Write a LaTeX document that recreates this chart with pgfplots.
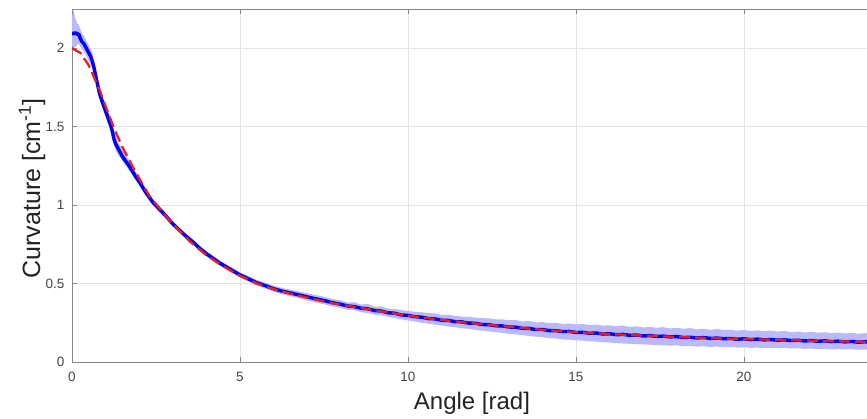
\documentclass[border=0pt]{standalone}
\usepackage{fontspec}
\setmainfont{Liberation Sans}
\usepackage{pgfplots}
\usepackage{pgfplotstable}
\pgfplotsset{compat=1.18}
\usepgfplotslibrary{fillbetween}
\definecolor{bandblue}{RGB}{185,185,252}
\definecolor{lineblue}{RGB}{0,0,245}
\definecolor{fitred}{RGB}{232,30,36}
\definecolor{axgray}{RGB}{135,135,135}
\definecolor{gridgray}{RGB}{228,228,228}
\definecolor{ticktext}{RGB}{70,70,70}
\definecolor{labeltext}{RGB}{35,35,35}

\pgfplotstableread{
x y lo hi
0.00 2.10 2.02 2.20
0.05 2.09 2.00 2.24
0.10 2.10 2.01 2.19
0.15 2.09 2.02 2.16
0.20 2.09 2.03 2.15
0.25 2.06 2.01 2.12
0.30 2.04 1.99 2.09
0.35 2.03 1.98 2.08
0.40 2.01 1.96 2.06
0.45 1.99 1.94 2.04
0.50 1.97 1.92 2.02
0.55 1.95 1.90 2.00
0.60 1.92 1.87 1.97
0.65 1.88 1.84 1.92
0.70 1.83 1.79 1.87
0.75 1.78 1.74 1.82
0.80 1.73 1.69 1.77
0.85 1.69 1.65 1.73
0.90 1.66 1.62 1.70
0.95 1.63 1.59 1.67
1.00 1.60 1.56 1.64
1.05 1.57 1.53 1.61
1.10 1.54 1.50 1.59
1.15 1.51 1.47 1.56
1.20 1.47 1.43 1.53
1.25 1.42 1.38 1.48
1.30 1.39 1.35 1.44
1.35 1.37 1.33 1.41
1.40 1.35 1.31 1.39
1.45 1.33 1.30 1.37
1.50 1.31 1.28 1.35
1.60 1.28 1.25 1.32
1.70 1.25 1.22 1.29
1.80 1.215 1.19 1.25
1.90 1.18 1.155 1.21
2.00 1.15 1.125 1.175
2.10 1.115 1.09 1.14
2.20 1.08 1.06 1.10
2.40 1.02 1.00 1.04
2.60 0.975 0.955 0.995
2.80 0.93 0.912 0.948
3.00 0.88 0.863 0.897
3.20 0.84 0.824 0.857
3.40 0.80 0.784 0.816
3.60 0.765 0.749 0.781
3.80 0.725 0.709 0.741
4.00 0.69 0.674 0.706
4.20 0.66 0.644 0.677
4.40 0.63 0.614 0.646
4.60 0.605 0.588 0.622
4.80 0.58 0.563 0.597
5.00 0.555 0.538 0.572
5.25 0.53 0.512 0.548
5.50 0.505 0.487 0.523
5.75 0.487 0.468 0.505
6.00 0.467 0.448 0.486
6.25 0.452 0.432 0.472
6.50 0.440 0.419 0.461
6.75 0.428 0.406 0.450
7.00 0.415 0.392 0.438
7.25 0.403 0.379 0.427
7.50 0.392 0.368 0.416
7.75 0.378 0.354 0.402
8.0 .368 .345 .392
8.2 .357 .333 .380
8.4 .353 .330 .381
8.6 .343 .318 .366
8.8 .339 .312 .370
9.0 .328 .302 .352
9.2 .325 .297 .355
9.4 .314 .287 .340
9.6 .311 .280 .338
9.8 .300 .272 .331
10.0 .297 .265 .326
10.2 .289 .258 .320
10.4 .286 .250 .318
10.6 .277 .244 .312
10.8 .275 .238 .310
11.0 .266 .232 .300
11.2 .265 .226 .302
11.4 .257 .222 .294
11.6 .256 .214 .290
11.8 .248 .212 .288
12.0 .247 .205 .283
12.2 .239 .200 .280
12.4 .238 .195 .278
12.6 .231 .190 .272
12.8 .230 .186 .272
13.0 .223 .180 .266
13.2 .222 .176 .268
13.4 .215 .172 .258
13.6 .214 .166 .262
13.8 .207 .162 .252
14.0 .207 .158 .255
14.2 .200 .152 .248
14.4 .200 .150 .250
14.6 .194 .144 .242
14.8 .195 .142 .245
15.0 .188 .138 .240
15.2 .189 .136 .242
15.4 .183 .132 .236
15.6 .185 .130 .238
15.8 .178 .126 .232
16.0 .180 .124 .234
16.2 .174 .120 .228
16.4 .176 .118 .232
16.6 .170 .116 .224
16.8 .172 .114 .228
17.0 .166 .112 .220
17.2 .168 .110 .224
17.4 .163 .108 .218
17.6 .165 .106 .222
17.8 .160 .104 .214
18.0 .162 .106 .218
18.2 .156 .100 .212
18.4 .158 .102 .216
18.6 .153 .098 .208
18.8 .156 .100 .212
19.0 .150 .096 .206
19.2 .153 .098 .210
19.4 .148 .094 .204
19.6 .150 .096 .206
19.8 .145 .092 .200
20.0 .148 .094 .204
20.2 .143 .090 .198
20.4 .146 .092 .202
20.6 .141 .088 .196
20.8 .143 .090 .200
21.0 .139 .088 .194
21.2 .141 .090 .198
21.4 .137 .086 .190
21.6 .139 .088 .194
21.8 .134 .084 .188
22.0 .137 .086 .192
22.2 .132 .082 .186
22.4 .135 .084 .190
22.6 .130 .080 .184
22.8 .133 .082 .188
23.0 .128 .080 .182
23.2 .131 .082 .186
23.4 .126 .078 .180
23.6 .129 .080 .184
23.81 .125 .076 .178
}\measured

\pgfplotstableread{
x y
0.00 2.00
0.25 1.97
0.50 1.89
0.83 1.73
1.00 1.63
1.25 1.49
1.50 1.37
1.82 1.24
2.00 1.17
2.30 1.06
2.60 0.98
3.00 0.88
3.50 0.77
4.00 0.68
4.50 0.61
5.00 0.55
5.50 0.50
6.00 0.465
6.50 0.435
7.00 0.41
7.50 0.385
8.00 0.365
9.00 0.330
10.0 0.295
11.0 0.268
12.0 0.245
13.0 0.225
14.0 0.205
15.0 0.190
16.0 0.178
17.0 0.168
18.0 0.160
19.0 0.152
20.0 0.146
21.0 0.141
22.0 0.136
23.0 0.131
23.81 0.127
}\fit

\begin{document}
\begin{tikzpicture}
\begin{axis}[
  scale only axis,
  width=800pt, height=353pt,
  xmin=0, xmax=23.81, ymin=0, ymax=2.25,
  xtick={0,5,10,15,20},
  ytick={0,0.5,1,1.5,2},
  tick align=inside,
  major tick length=5pt,
  tick style={color=axgray, line width=0.8pt},
  axis line style={color=axgray, line width=1pt},
  grid=major,
  grid style={color=gridgray, line width=0.6pt},
  /pgf/number format/assume math mode=true,
  ticklabel style={font=\fontsize{13.5}{15}\selectfont, text=ticktext},
  xticklabel style={yshift=-7pt},
  yticklabel style={xshift=-4pt},
  every axis x label/.style={at={(axis description cs:0.5,0)}, anchor=base, yshift=-47pt, font=\fontsize{24}{27}\selectfont, text=labeltext},
  every axis y label/.style={at={(axis description cs:0,0.5)}, rotate=90, anchor=base, yshift=32pt, xshift=-3pt, font=\fontsize{25}{28}\selectfont, text=labeltext},
  xlabel={Angle [rad]},
  ylabel={Curvature [cm\textsuperscript{-1}]},
]
\addplot[name path=lo, draw=none, forget plot] table[x=x, y=lo] {\measured};
\addplot[name path=hi, draw=none, forget plot] table[x=x, y=hi] {\measured};
\addplot[bandblue, forget plot] fill between[of=lo and hi];
\addplot[lineblue, line width=3.4pt, line join=round] table[x=x, y=y] {\measured};
\addplot[fitred, line width=2.3pt, dash pattern=on 11pt off 5pt] table[x=x, y=y] {\fit};
\coordinate (LL) at (rel axis cs:0,0);
\end{axis}
\pgfresetboundingbox
\path[use as bounding box] ([shift={(-72pt,-56pt)}]LL) rectangle ([shift={(795pt,362pt)}]LL);
\end{tikzpicture}
\end{document}
